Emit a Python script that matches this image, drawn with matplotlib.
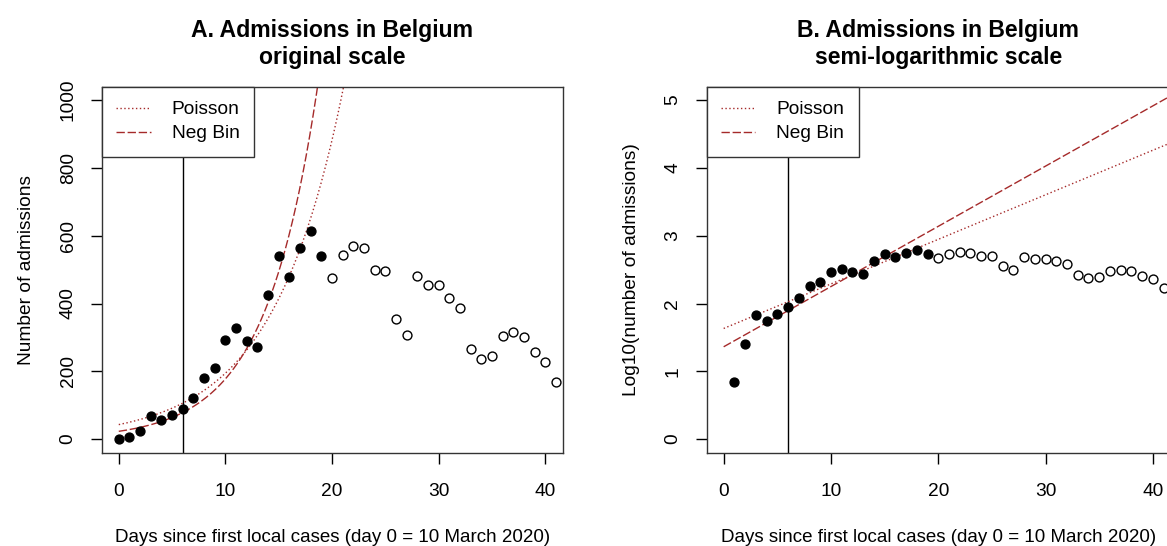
import numpy as np
import matplotlib.pyplot as plt

# daily hospital admissions in Belgium, day 0 = 10 March 2020
days = np.arange(0, 42)
admissions = [0, 7, 25, 68, 55, 70, 89, 121, 179, 210,
              291, 328, 288, 271, 424, 540, 478, 565, 615, 539,
              474, 543, 571, 564, 499, 496, 354, 307, 481, 455,
              456, 417, 388, 267, 237, 245, 305, 315, 301, 258,
              228, 169]
last_fit_day = 19      # filled points used for the fit
cut_day = 6

# fitted log10-linear models: log10(y) = a + b * day
poisson_coef = (1.632, 0.0657)
negbin_coef = (1.362, 0.0888)

plt.rcParams['font.family'] = ['Liberation Sans Narrow', 'Liberation Sans', 'DejaVu Sans']
red = '#A52A2A'
fs = 13.8

fig = plt.figure(figsize=(11.67, 5.46), dpi=100)
axA = fig.add_axes([101.7 / 1167, 1 - 452.7 / 546, (562.5 - 101.7) / 1167, (452.7 - 86.5) / 546])
axB = fig.add_axes([706.5 / 1167, 1 - 452.7 / 546, (1170 - 706.5) / 1167, (452.7 - 86.5) / 546])

y = np.array(admissions, dtype=float)
fit = days <= last_fit_day
t = np.linspace(0, 43, 400)


def model(coef):
    return coef[0] + coef[1] * t


def style(ax, yticks, ylabel, title):
    ax.set_xlim(-1.6, 41.6)
    ax.set_xticks([0, 10, 20, 30, 40])
    ax.set_yticks(yticks)
    ax.tick_params(direction='out', length=8, width=1, labelsize=fs, pad=14)
    ax.tick_params(axis='y', pad=10)
    for lab in ax.get_yticklabels():
        lab.set_rotation(90)
        lab.set_va('center')
    for s in ax.spines.values():
        s.set_linewidth(1)
        s.set_color('#333333')
    ax.set_xlabel('Days since first local cases (day 0 = 10 March 2020)', fontsize=13.5, labelpad=21)
    ax.set_ylabel(ylabel, fontsize=fs, labelpad=18)
    ax.set_title(title, fontsize=16.6, fontweight='bold', pad=16, linespacing=1.25)
    ax.axvline(cut_day, color='black', lw=1, zorder=1)
    leg = ax.legend(loc='upper left', fontsize=fs, frameon=True, fancybox=False,
                    borderaxespad=0, handlelength=1.8, handletextpad=1.1,
                    borderpad=0.75, labelspacing=0.35)
    leg.get_frame().set_edgecolor('#333333')
    leg.get_frame().set_linewidth(1)
    leg.get_frame().set_alpha(1)


# panel A: original scale
axA.plot(t, 10 ** model(poisson_coef), color=red, lw=1, ls=(0, (1, 1.8)), label='Poisson')
axA.plot(t, 10 ** model(negbin_coef), color=red, lw=1, ls=(0, (6, 2)), label='Neg Bin')
axA.plot(days[fit], y[fit], 'o', color='black', ms=6.4, zorder=3)
axA.plot(days[~fit], y[~fit], 'o', mfc='none', mec='black', mew=1, ms=6.4, zorder=3)
axA.set_ylim(-40, 1040)
style(axA, [0, 200, 400, 600, 800, 1000], 'Number of admissions',
      'A. Admissions in Belgium\noriginal scale')

# panel B: semi-logarithmic scale
with np.errstate(divide='ignore'):
    logy = np.log10(y)
pos = y > 0
axB.plot(t, model(poisson_coef), color=red, lw=1, ls=(0, (1, 1.8)), label='Poisson')
axB.plot(t, model(negbin_coef), color=red, lw=1, ls=(0, (6, 2)), label='Neg Bin')
axB.plot(days[fit & pos], logy[fit & pos], 'o', color='black', ms=6.4, zorder=3)
axB.plot(days[~fit], logy[~fit], 'o', mfc='none', mec='black', mew=1, ms=6.4, zorder=3)
axB.set_ylim(-0.2, 5.2)
style(axB, [0, 1, 2, 3, 4, 5], 'Log10(number of admissions)',
      'B. Admissions in Belgium\nsemi-logarithmic scale')

fig.savefig('out.png', dpi=100)
